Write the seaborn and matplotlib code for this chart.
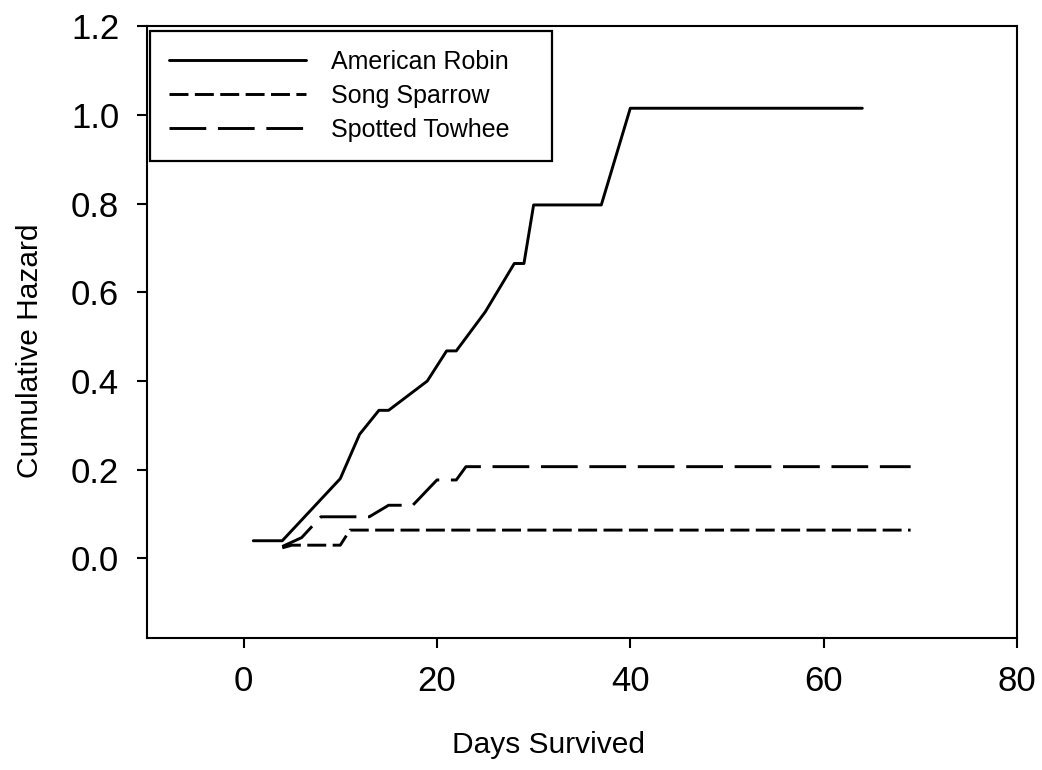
import matplotlib
matplotlib.use("Agg")
import matplotlib.pyplot as plt
from matplotlib.ticker import FormatStrFormatter
import seaborn as sns

# Cumulative hazard by days survived, one series per species
robin_days = [1, 4, 10, 12, 14, 15, 19, 21, 22, 25, 28, 29, 30, 37, 40, 64]
robin_hazard = [0.04, 0.04, 0.18, 0.28, 0.334, 0.334, 0.40, 0.468, 0.468,
                0.556, 0.665, 0.665, 0.797, 0.797, 1.015, 1.015]

sparrow_days = [4, 5, 10, 11, 69]
sparrow_hazard = [0.024, 0.03, 0.03, 0.064, 0.064]

towhee_days = [4, 6, 8, 13, 15, 17.5, 20, 22, 23, 69]
towhee_hazard = [0.027, 0.047, 0.094, 0.094, 0.12, 0.12, 0.177, 0.177,
                 0.207, 0.207]

species = ["American Robin", "Song Sparrow", "Spotted Towhee"]
x_ticks = [0, 20, 40, 60, 80]
y_ticks = [0.0, 0.2, 0.4, 0.6, 0.8, 1.0, 1.2]

sns.set_style("ticks")
plt.rcParams["font.family"] = ["Liberation Sans", "DejaVu Sans"]
plt.rcParams["text.color"] = "black"
plt.rcParams["axes.labelcolor"] = "black"

fig = plt.figure(figsize=(10.42, 7.70), dpi=100)
ax = fig.add_axes([0.141, 0.171, 0.835, 0.795])

line_styles = ["-", (0, (6.5, 2.2)), (0, (12.6, 4.0))]
series = [(robin_days, robin_hazard),
          (sparrow_days, sparrow_hazard),
          (towhee_days, towhee_hazard)]

for name, (days, hazard), ls in zip(species, series, line_styles):
    sns.lineplot(x=days, y=hazard, ax=ax, color="black", linewidth=2.1,
                 linestyle=ls, label=name, sort=False, estimator=None)

ax.set_xlim(-10, 80)
ax.set_ylim(-0.18, 1.2)
ax.set_xticks(x_ticks)
ax.set_yticks(y_ticks)
ax.yaxis.set_major_formatter(FormatStrFormatter("%.1f"))

for side in ["left", "right", "top", "bottom"]:
    ax.spines[side].set_visible(True)
    ax.spines[side].set_linewidth(1.5)
    ax.spines[side].set_color("black")

ax.tick_params(axis="both", direction="out", length=7, width=1.5,
               labelsize=25, colors="black")
ax.tick_params(axis="x", pad=12)
ax.tick_params(axis="y", pad=13)

ax.set_xlabel("Days Survived", fontsize=21.5, va="center")
ax.set_ylabel("Cumulative Hazard", fontsize=21.5, va="center")
ax.xaxis.set_label_coords(0.462, -0.175)
ax.yaxis.set_label_coords(-0.1345, 0.47)

leg = ax.legend(loc="upper left", bbox_to_anchor=(0.0034, 0.0, 0.462, 0.992),
                mode="expand", fontsize=18, frameon=True, fancybox=False,
                framealpha=1, edgecolor="black", handlelength=5.5,
                handletextpad=1.0, labelspacing=0.39, borderpad=0.76,
                borderaxespad=0.0)
leg.get_frame().set_linewidth(1.6)

fig.savefig("out.png", dpi=100, facecolor="white")
